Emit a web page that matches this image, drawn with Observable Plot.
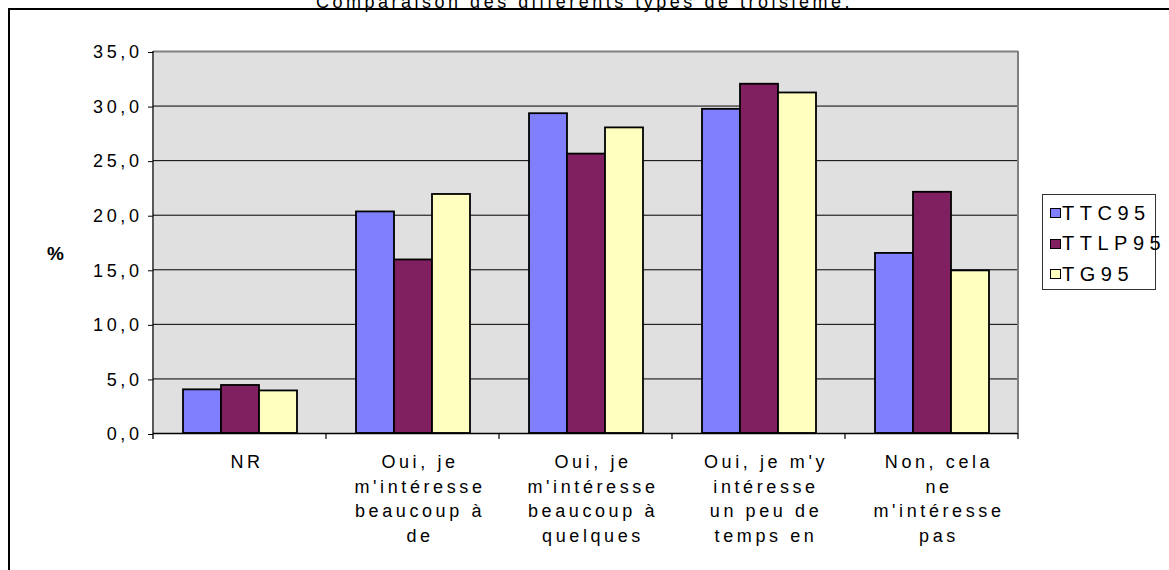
<!DOCTYPE html>
<html lang="fr">
<head>
<meta charset="utf-8">
<title>Comparaison des différents types de troisième.</title>
<script src="https://cdn.jsdelivr.net/npm/d3@7"></script>
<script src="https://cdn.jsdelivr.net/npm/@observablehq/plot@0.6"></script>
<style>
  html, body { margin: 0; padding: 0; width: 1169px; height: 570px; overflow: hidden; background: #fff; }
  #page { position: relative; width: 1169px; height: 570px; overflow: hidden;
          font-family: "Liberation Sans", Arial, sans-serif; color: #000; }
  #title { position: absolute; left: 0; top: -7px; width: 1169px; text-align: center;
           font-size: 18px; line-height: 18px; letter-spacing: 3.5px; white-space: nowrap; }
  #border { position: absolute; left: 8px; top: 8px; width: 1400px; height: 800px; border: 2px solid #000; }
  #chart { position: absolute; left: 0; top: 0; }
  #chart svg { overflow: visible; }
  #chart g[aria-label$="tick label"] text { letter-spacing: 3.6px; }
  #ylabel { position: absolute; left: 47px; top: 243px; font-size: 19px; line-height: 22px; font-weight: bold; }
  #legend { position: absolute; left: 1042px; top: 194px; width: 114px; height: 96px;
            border: 1px solid #333; background: #fff; box-sizing: border-box; }
  #legend .row { position: absolute; left: 7px; height: 30px; display: flex; align-items: center;
                 white-space: nowrap; font-size: 20px; letter-spacing: 5.5px; }
  #legend .swatch { width: 11px; height: 10px; border: 1px solid #000; box-sizing: border-box; margin-right: 1px; }
</style>
</head>
<body>
<div id="page">
  <div id="border"></div>
  <div id="chart"></div>
  <div id="ylabel">%</div>
  <div id="legend"></div>
  <div id="title">Comparaison des différents types de troisième.</div>
</div>
<script>
// Answer categories (labels wrapped the way they are printed under the axis)
const categories = [
  "NR",
  "Oui, je\nm'intéresse\nbeaucoup à\nde",
  "Oui, je\nm'intéresse\nbeaucoup à\nquelques",
  "Oui, je m'y\nintéresse\nun peu de\ntemps en",
  "Non, cela\nne\nm'intéresse\npas"
];

// Series (types de troisième) and their percentages per category
const series = ["TTC95", "TTLP95", "TG95"];
const ttc95  = [4.0, 20.3, 29.3, 29.7, 16.5];
const ttlp95 = [4.4, 15.9, 25.6, 32.0, 22.1];
const tg95   = [3.9, 21.9, 28.0, 31.2, 14.9];
const seriesColors = ["#8080FF", "#802060", "#FFFFC0"];

// Value axis
const yTicks = [0, 5, 10, 15, 20, 25, 30, 35];
const yTickLabels = ["0,0", "5,0", "10,0", "15,0", "20,0", "25,0", "30,0", "35,0"];
const gridValues = [5, 10, 15, 20, 25, 30];

const seriesValues = [ttc95, ttlp95, tg95];
const rows = categories.flatMap((category, i) =>
  series.map((name, j) => ({category, series: name, value: seriesValues[j][i]}))
);

const chart = Plot.plot({
  width: 1169,
  height: 570,
  marginLeft: 151,
  marginRight: 150,
  marginTop: 51,
  marginBottom: 137,
  style: {background: "transparent", fontFamily: "'Liberation Sans', Arial, sans-serif", fontSize: "18px", color: "#000"},
  fx: {domain: categories, padding: 0, label: null},
  x: {domain: series, paddingInner: 0, paddingOuter: 0.72, axis: null},
  y: {domain: [0, 35]},
  color: {domain: series, range: seriesColors},
  marks: [
    Plot.frame({fill: "#E0E0E0", stroke: "none", shapeRendering: "crispEdges"}),
    Plot.ruleY(gridValues, {stroke: "#000", strokeWidth: 1}),
    Plot.ruleY([35], {stroke: "#808080", strokeWidth: 2}),
    Plot.barY(rows, {fx: "category", x: "series", y: "value", fill: "series", stroke: "#000", strokeWidth: 1.8}),
    Plot.ruleY([0], {stroke: "#000", strokeWidth: 1.5}),
    Plot.axisY({
      ticks: yTicks,
      tickFormat: (d) => yTickLabels[yTicks.indexOf(d)],
      tickSize: 5,
      tickPadding: 6,
      label: null,
      fontSize: 18,
      dy: 1
    }),
    Plot.axisFx({
      anchor: "bottom",
      tickSize: 0,
      tickPadding: 16.7,
      lineHeight: 1.378,
      label: null,
      fontSize: 18,
      dx: 7
    })
  ]
});

// Axis line, right border of the plot area and the category separator ticks
const fx = chart.scale("fx");
const y = chart.scale("y");
const edges = categories.map((c) => fx.apply(c));
edges.push(fx.apply(categories[categories.length - 1]) + fx.bandwidth);
const y0 = y.apply(0);
const yTop = y.apply(35);
const svg = d3.select(chart);
const deco = svg.append("g").attr("aria-label", "category separators");
deco.append("line")
  .attr("x1", edges[edges.length - 1]).attr("x2", edges[edges.length - 1])
  .attr("y1", yTop).attr("y2", y0)
  .attr("stroke", "#808080").attr("stroke-width", 2);
deco.append("line")
  .attr("x1", edges[0]).attr("x2", edges[0])
  .attr("y1", yTop).attr("y2", y0 + 6)
  .attr("stroke", "#000").attr("stroke-width", 1.3);
deco.selectAll("line.sep")
  .data(edges.slice(1))
  .join("line")
  .attr("class", "sep")
  .attr("x1", (d) => d).attr("x2", (d) => d)
  .attr("y1", y0).attr("y2", y0 + 6)
  .attr("stroke", "#000").attr("stroke-width", 1.2);

document.getElementById("chart").append(chart);

// Legend
const legend = d3.select("#legend");
series.forEach((name, i) => {
  const row = legend.append("div").attr("class", "row").style("top", `${3 + i * 30.5}px`);
  row.append("div").attr("class", "swatch").style("background", seriesColors[i]);
  row.append("span").text(name);
});
</script>
</body>
</html>
